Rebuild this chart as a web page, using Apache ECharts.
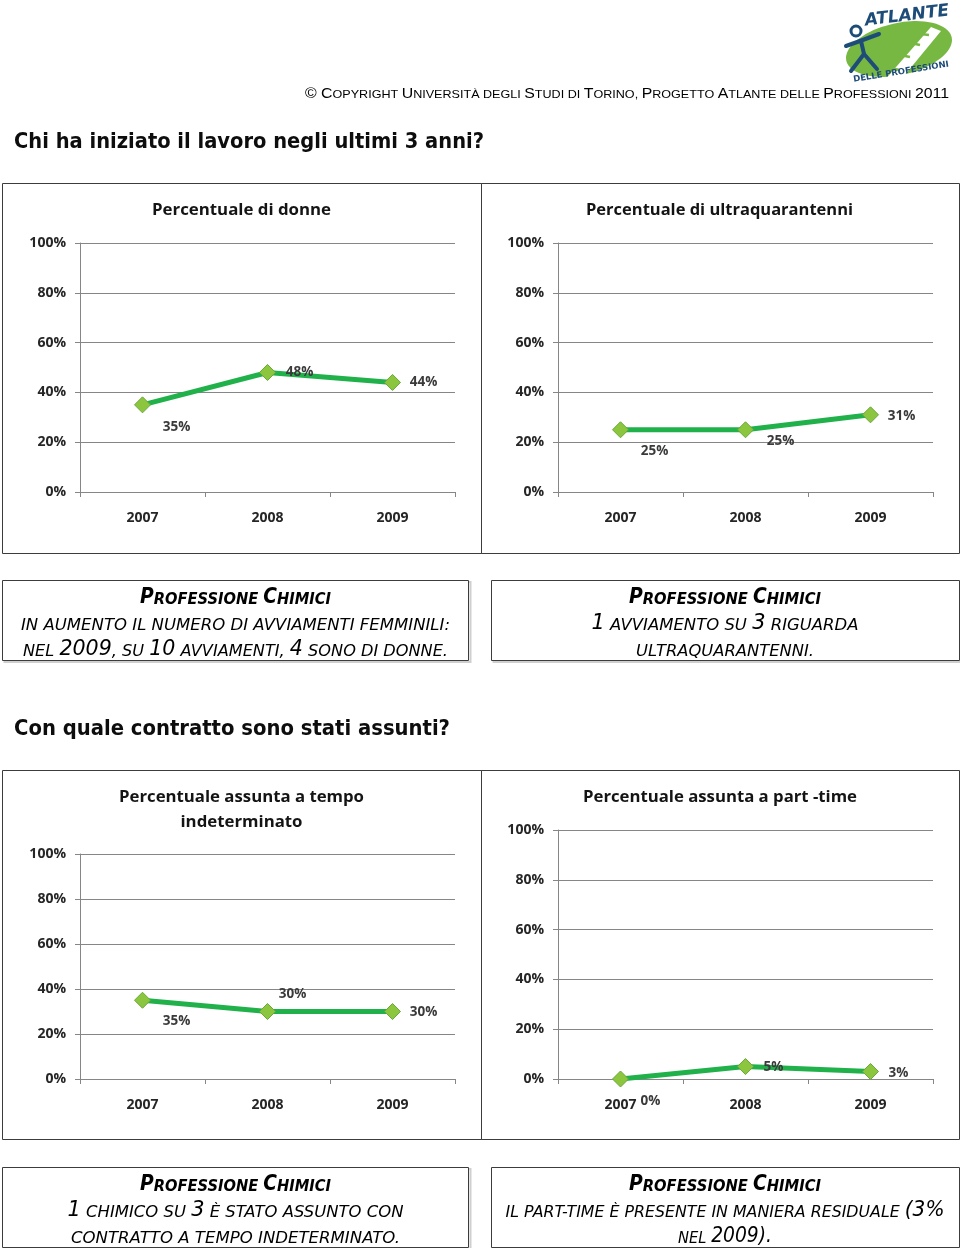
<!DOCTYPE html>
<html><head><meta charset="utf-8">
<script src="https://cdn.jsdelivr.net/npm/echarts@6/dist/echarts.min.js"></script>
<style>html,body{margin:0;padding:0;background:#fff}#c{width:960px;height:1248px}</style>
</head><body><div id="c"></div>
<script>
// ---------- data ----------
const years = ['2007', '2008', '2009'];
const donne = [35, 48, 44];
const ultraquarantenni = [25, 25, 31];
const tempoIndeterminato = [35, 30, 30];
const partTime = [0, 5, 3];

const chartTitles = [
  ['Percentuale di donne'],
  ['Percentuale di ultraquarantenni'],
  ['Percentuale assunta a tempo', 'indeterminato'],
  ['Percentuale assunta a part -time']
];
const heading1 = 'Chi ha iniziato il lavoro negli ultimi 3 anni?';
const heading2 = 'Con quale contratto sono stati assunti?';

// ---------- styling / layout ----------
const labelOffsets = [
  [[34, 22], [32, 0], [31, 0]],
  [[34, 21], [35, 11], [31, 1]],
  [[34, 21], [25, -17], [31, 1]],
  [[30, 22], [28, 1], [28, 2]]
];
const grids = [
  {left: 80, right: 505, top: 243, bottom: 756},
  {left: 558, right: 27, top: 243, bottom: 756},
  {left: 80, right: 505, top: 854, bottom: 169},
  {left: 558, right: 27, top: 830, bottom: 169}
];
const AX = '#868686';
const F = 'DejaVu Sans';
const CF = 'Open Sans';
const boxRich = {
  TB: {fontFamily: F, fontStyle: 'italic', fontWeight: 'bold', fontSize: 21, color: '#111', verticalAlign: 'bottom', lineHeight: 26},
  tb: {fontFamily: F, fontStyle: 'italic', fontWeight: 'bold', fontSize: 16.5, color: '#111', verticalAlign: 'bottom', lineHeight: 26},
  N: {fontFamily: F, fontStyle: 'italic', fontSize: 21, color: '#111', verticalAlign: 'bottom', lineHeight: 26},
  n: {fontFamily: F, fontStyle: 'italic', fontSize: 16.5, color: '#111', verticalAlign: 'bottom', lineHeight: 26}
};
const cpRich = {
  C: {fontFamily: 'Liberation Sans', fontSize: 14.5, color: '#111', verticalAlign: 'bottom', lineHeight: 18},
  c: {fontFamily: 'Liberation Sans', fontSize: 11.5, color: '#111', verticalAlign: 'bottom', lineHeight: 18}
};

const ctx = document.createElement('canvas').getContext('2d');
function measure(segs, rich) {
  let w = 0;
  segs.forEach(([s, t]) => {
    const r = rich[s];
    ctx.font = `${r.fontStyle || 'normal'} ${r.fontWeight || 'normal'} ${r.fontSize}px "${r.fontFamily}"`;
    w += ctx.measureText(t).width;
  });
  return w;
}
function richText(segs, rich, x, y, target, align) {
  const w = measure(segs, rich);
  return {
    type: 'text', x: x, y: y, scaleX: target / w, z: 10,
    style: {
      text: segs.map(([s, t]) => `{${s}|${t}}`).join(''),
      rich: rich, align: align || 'center', verticalAlign: 'middle'
    }
  };
}
function plainText(text, font, x, y, target, align, color) {
  ctx.font = `${font.fontWeight || 'normal'} ${font.fontSize}px "${font.fontFamily}"`;
  const w = ctx.measureText(text).width;
  return {
    type: 'text', x: x, y: y, scaleX: target ? target / w : 1, z: 10,
    style: Object.assign({text: text, align: align || 'center', verticalAlign: 'middle', fill: color || '#111'}, font)
  };
}

const profTitle = [['TB', 'P'], ['tb', 'ROFESSIONE '], ['TB', 'C'], ['tb', 'HIMICI']];
const boxes = [
  {rect: [2, 580, 466, 80], cx: 235.5, y: 595, lines: [
    [profTitle, 191],
    [[['n', 'IN AUMENTO IL NUMERO DI AVVIAMENTI FEMMINILI:']], 429],
    [[['n', 'NEL '], ['N', '2009'], ['n', ', SU '], ['N', '10'], ['n', ' AVVIAMENTI, '], ['N', '4'], ['n', ' SONO DI DONNE.']], 425]
  ]},
  {rect: [491, 580, 468, 80], cx: 725, y: 595, lines: [
    [profTitle, 192],
    [[['N', '1'], ['n', ' AVVIAMENTO SU '], ['N', '3'], ['n', ' RIGUARDA']], 267],
    [[['n', 'ULTRAQUARANTENNI.']], 178]
  ]},
  {rect: [2, 1167, 466, 80], cx: 235.5, y: 1182, lines: [
    [profTitle, 191],
    [[['N', '1'], ['n', ' CHIMICO SU '], ['N', '3'], ['n', ' È STATO ASSUNTO CON']], 336],
    [[['n', 'CONTRATTO A TEMPO INDETERMINATO.']], 329]
  ]},
  {rect: [491, 1167, 468, 80], cx: 725, y: 1182, lines: [
    [profTitle, 192],
    [[['n', 'IL PART-TIME È PRESENTE IN MANIERA RESIDUALE '], ['N', '(3%']], 439],
    [[['n', 'NEL '], ['N', '2009).']], 94]
  ]}
];

const graphics = [];
// panels
[[2, 183, 479, 370], [481, 183, 478, 370], [2, 770, 479, 369], [481, 770, 478, 369]].forEach(r => {
  graphics.push({type: 'rect', shape: {x: r[0] + 0.5, y: r[1] + 0.5, width: r[2], height: r[3]}, style: {fill: 'none', stroke: '#3c3c3c', lineWidth: 1}, z: 1});
});
// chart titles
const titleFont = {fontFamily: CF, fontWeight: 'bold', fontSize: 16};
const titlePos = [[241.5, 210, [179]], [719.5, 210, [267]], [241.5, 797, [245, 122]], [720, 797, [274]]];
chartTitles.forEach((lines, i) => {
  lines.forEach((t, j) => {
    graphics.push(plainText(t, titleFont, titlePos[i][0], titlePos[i][1] + j * 25, titlePos[i][2][j], 'center', '#141414'));
  });
});
// headings
const headFont = {fontFamily: F, fontWeight: 'bold', fontSize: 21};
graphics.push(plainText(heading1, headFont, 14, 143, 470, 'left', '#0d0d0d'));
graphics.push(plainText(heading2, headFont, 14, 730, 436, 'left', '#0d0d0d'));
// copyright
graphics.push(richText([
  ['C', '© C'], ['c', 'OPYRIGHT '], ['C', 'U'], ['c', 'NIVERSITÀ DEGLI '], ['C', 'S'], ['c', 'TUDI DI '],
  ['C', 'T'], ['c', 'ORINO, '], ['C', 'P'], ['c', 'ROGETTO '], ['C', 'A'], ['c', 'TLANTE DELLE '],
  ['C', 'P'], ['c', 'ROFESSIONI '], ['C', '2011']
], cpRich, 949, 92, 644, 'right'));
// text boxes
boxes.forEach(b => {
  graphics.push({type: 'rect', shape: {x: b.rect[0] + 2.5, y: b.rect[1] + 2, width: b.rect[2], height: b.rect[3]}, style: {fill: 'none', stroke: '#cfcfcf', lineWidth: 2}, z: 1});
  graphics.push({type: 'rect', shape: {x: b.rect[0] + 0.5, y: b.rect[1] + 0.5, width: b.rect[2], height: b.rect[3]}, style: {fill: '#fff', stroke: '#3c3c3c', lineWidth: 1}, z: 2});
  b.lines.forEach((ln, j) => graphics.push(richText(ln[0], boxRich, b.cx, b.y + j * 26, ln[1], 'center')));
});
// logo
const NAVY = '#1d4c78';
graphics.push({type: 'circle', x: 899, y: 49, scaleX: 54, scaleY: 26, rotation: 0.22, shape: {cx: 0, cy: 0, r: 1}, style: {fill: '#77b843'}, z: 3});
graphics.push({type: 'polygon', shape: {points: [[883, 82], [899, 82], [941, 31], [931, 27]]}, style: {fill: '#fff'}, z: 4});
[[889, 68, 900, 70], [900, 55, 910, 57], [911, 43, 920, 45], [921, 34, 929, 35]].forEach(l => {
  graphics.push({type: 'line', shape: {x1: l[0], y1: l[1], x2: l[2], y2: l[3]}, style: {stroke: '#77b843', lineWidth: 2.5}, z: 5});
});
graphics.push({type: 'circle', shape: {cx: 856, cy: 31, r: 5}, style: {fill: 'none', stroke: NAVY, lineWidth: 3}, z: 6});
graphics.push({type: 'polyline', shape: {points: [[846, 46], [860, 41], [879, 34]]}, style: {stroke: NAVY, lineWidth: 4, lineCap: 'round', lineJoin: 'round'}, z: 6});
graphics.push({type: 'polyline', shape: {points: [[851, 71], [864, 54], [877, 69]]}, style: {stroke: NAVY, lineWidth: 4, lineCap: 'round', lineJoin: 'round'}, z: 6});
graphics.push({type: 'line', shape: {x1: 861, y1: 41, x2: 864, y2: 54}, style: {stroke: NAVY, lineWidth: 4, lineCap: 'round'}, z: 6});
graphics.push({type: 'text', x: 907, y: 16, rotation: 0.12, z: 6, style: {text: 'ATLANTE', fontFamily: F, fontWeight: 'bold', fontStyle: 'italic', fontSize: 17, fill: NAVY, align: 'center', verticalAlign: 'middle'}});
graphics.push({type: 'text', x: 901, y: 72, rotation: 0.16, z: 6, style: {text: 'DELLE PROFESSIONI', fontFamily: F, fontWeight: 'bold', fontSize: 8.5, fill: NAVY, align: 'center', verticalAlign: 'middle'}});

// ---------- charts ----------
const seriesData = [donne, ultraquarantenni, tempoIndeterminato, partTime];
const option = {
  animation: false,
  backgroundColor: '#fff',
  grid: grids.map(g => Object.assign({containLabel: false}, g)),
  xAxis: grids.map((g, i) => ({
    type: 'category', gridIndex: i, data: years, boundaryGap: true,
    axisLine: {lineStyle: {color: AX, width: 1}},
    axisTick: {show: true, length: 5, interval: 0, alignWithLabel: false, lineStyle: {color: AX}},
    axisLabel: {margin: 19, fontFamily: CF, fontWeight: 'bold', fontSize: 14, color: '#262626'}
  })),
  yAxis: grids.map((g, i) => ({
    type: 'value', gridIndex: i, min: 0, max: 100, interval: 20,
    axisLine: {show: true, lineStyle: {color: AX, width: 1}},
    axisTick: {show: true, length: 5, lineStyle: {color: AX}},
    splitLine: {show: true, lineStyle: {color: AX, width: 1}},
    axisLabel: {formatter: '{value}%', margin: 14, fontFamily: CF, fontWeight: 'bold', fontSize: 14, color: '#262626'}
  })),
  series: seriesData.map((d, i) => ({
    type: 'line', xAxisIndex: i, yAxisIndex: i,
    data: d.map((v, k) => ({value: v, label: {offset: labelOffsets[i][k]}})),
    symbol: 'diamond', symbolSize: 16,
    lineStyle: {color: '#21b14b', width: 5},
    itemStyle: {color: '#8cc63f', borderColor: '#6aa83a', borderWidth: 1},
    label: {show: true, position: 'inside', formatter: '{c}%', fontFamily: CF, fontWeight: 'bold', fontSize: 13.5, color: '#3a3a3a'},
    emphasis: {disabled: true}
  })),
  graphic: graphics
};
const chart = echarts.init(document.getElementById('c'), null, {renderer: 'canvas'});
chart.setOption(option);
</script>
</body></html>
